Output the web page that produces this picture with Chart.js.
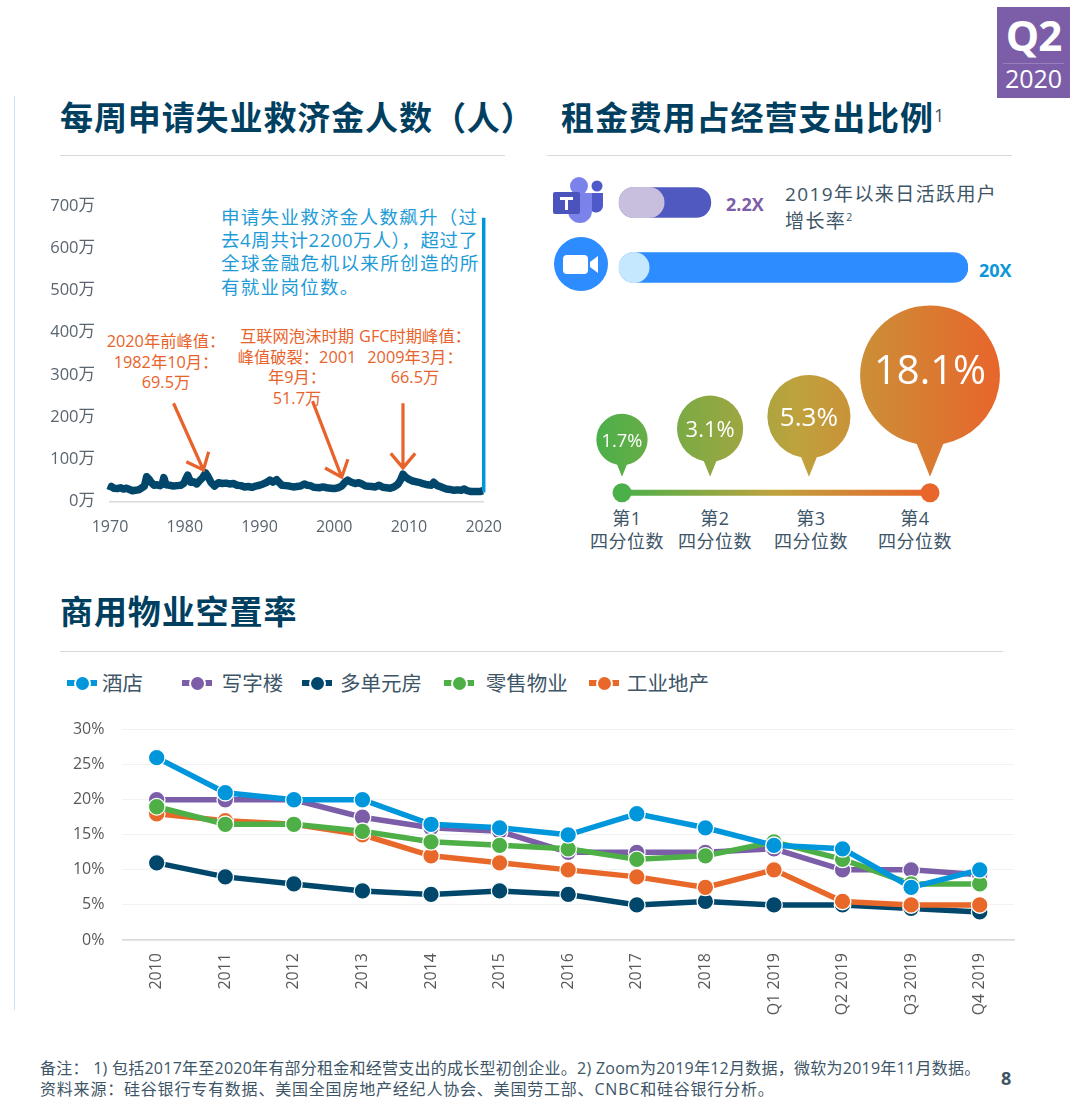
<!DOCTYPE html>
<html lang="zh">
<head>
<meta charset="utf-8">
<title>Q2 2020</title>
<script src="https://cdn.jsdelivr.net/npm/chart.js@4/dist/chart.umd.min.js"></script>
<style>
html, body { margin: 0; padding: 0; background: #fff; }
body { position: relative; width: 1080px; height: 1107px; overflow: hidden; font-family: "Open Sans", "Noto Sans CJK SC", sans-serif; color: #3d5566; }
canvas { position: absolute; }
.t { position: absolute; white-space: nowrap; }
.title { font-size: 33px; font-weight: 700; color: #003f5f; letter-spacing: .9px; line-height: 40px; }
.rule { position: absolute; height: 1px; background: #d9d9d9; }
.orange { color: #e8632b; font-size: 16.3px; line-height: 20.5px; text-align: center; transform: translateX(-50%); }
.quart { font-size: 18px; line-height: 23px; text-align: center; transform: translateX(-50%); letter-spacing: .5px; }
sup { font-size: .55em; line-height: 0; }
</style>
</head>
<body>
<div style="position:absolute;left:14px;top:96px;width:1px;height:914px;background:#cfe3ee"></div>

<div style="position:absolute;left:997px;top:7px;width:73px;height:91px;background:#7b5ea7;color:#fff;text-align:center">
  <div style="font-size:42px;font-weight:700;line-height:50px;margin-top:3px;letter-spacing:-1px">Q2</div>
  <div style="height:1px;background:#9580bb;margin:3px 6px 0"></div>
  <div style="font-size:25px;line-height:28px">2020</div>
</div>

<div class="t title" style="left:60px;top:98px">每周申请失业救济金人数（人）</div>
<div class="t title" style="left:561px;top:98px">租金费用占经营支出比例<sup style="font-size:18px;font-weight:400;letter-spacing:0;vertical-align:8px;color:#3d5566">1</sup></div>
<div class="rule" style="left:60px;top:155px;width:445px"></div>
<div class="rule" style="left:547px;top:155px;width:465px"></div>

<div class="t" style="left:221px;top:205px;font-size:18.5px;line-height:23.2px;color:#1e9bd7">
  <div style="letter-spacing:1.3px">申请失业救济金人数飙升（过</div>
  <div style="letter-spacing:.6px">去4周共计2200万人），超过了</div>
  <div style="letter-spacing:1.4px">全球金融危机以来所创造的所</div>
  <div style="letter-spacing:1.3px">有就业岗位数。</div>
</div>
<div class="t orange" style="left:166px;top:331px">2020年前峰值：<br>1982年10月：<br>69.5万</div>
<div class="t orange" style="left:297px;top:326px">互联网泡沫时期<br>峰值破裂：2001<br>年9月：<br>51.7万</div>
<div class="t orange" style="left:415px;top:326px">GFC时期峰值：<br>2009年3月：<br>66.5万</div>

<svg style="position:absolute;left:550px;top:175px" width="56" height="50" viewBox="550 175 56 50">
  <circle cx="597" cy="186" r="5.5" fill="#5059c9"/>
  <path d="M590 193h13v13a7 7 0 0 1-13 3z" fill="#5059c9"/>
  <circle cx="579" cy="186" r="9" fill="#7b83eb"/>
  <path d="M566 193h26v18a12 12 0 0 1-24 0z" fill="#7b83eb"/>
  <rect x="553" y="192" width="27" height="22" rx="2" fill="#4b53bc"/>
  <path d="M560 197h13v3h-5v10h-3v-10h-5z" fill="#fff"/>
</svg>
<svg style="position:absolute;left:552px;top:235px" width="58" height="58" viewBox="552 235 58 58">
  <circle cx="581" cy="264" r="27" fill="#2d8cff"/>
  <rect x="563" y="255" width="25" height="19" rx="4" fill="#fff"/>
  <path d="M590 262l8-6v17l-8-6z" fill="#fff"/>
</svg>
<div class="t" style="left:726px;top:192px;font-size:18px;line-height:24px;font-weight:700;color:#7b5ea7">2.2X</div>
<div class="t" style="left:979px;top:258px;font-size:18px;line-height:24px;font-weight:700;color:#0d97d8">20X</div>
<div class="t" style="left:785px;top:181px;font-size:19px;line-height:27px;letter-spacing:1.4px">2019年以来日活跃用户<br>增长率<sup>2</sup></div>

<div class="t quart" style="left:627px;top:507px">第1<br>四分位数</div>
<div class="t quart" style="left:715px;top:507px">第2<br>四分位数</div>
<div class="t quart" style="left:811px;top:507px">第3<br>四分位数</div>
<div class="t quart" style="left:915px;top:507px">第4<br>四分位数</div>

<div class="t title" style="left:60px;top:592px">商用物业空置率</div>
<div class="rule" style="left:60px;top:651px;width:943px"></div>
<div id="legend"></div>

<canvas id="claimsChart" width="488" height="360" style="left:30px;top:181px"></canvas>
<canvas id="growthChart" width="400" height="130" style="left:600px;top:170px"></canvas>
<canvas id="quartileChart" width="430" height="220" style="left:590px;top:300px"></canvas>
<canvas id="vacancyChart" width="990" height="318" style="left:50px;top:702px"></canvas>

<div class="t" style="left:40px;top:1058px;font-size:16px;line-height:21px">
  <div style="letter-spacing:.25px">备注： 1) 包括2017年至2020年有部分租金和经营支出的成长型初创企业。2) Zoom为2019年12月数据，微软为2019年11月数据。</div>
  <div style="letter-spacing:.8px">资料来源：硅谷银行专有数据、美国全国房地产经纪人协会、美国劳工部、CNBC和硅谷银行分析。</div>
</div>
<div class="t" style="left:1001px;top:1066px;font-size:18px;line-height:24px;font-weight:700">8</div>

<script>
const FONT = '"Open Sans", "Noto Sans CJK SC", sans-serif';

// Weekly claims (unit: 万)
const claimYears = [1970, 1970.2, 1970.5, 1971, 1971.4, 1971.8, 1972.2, 1972.6, 1973, 1973.4, 1973.8, 1974.2, 1974.6, 1974.9, 1975.2, 1975.5, 1975.9, 1976.3, 1976.7, 1977, 1977.2, 1977.5, 1978, 1978.5, 1979, 1979.5, 1979.9, 1980.1, 1980.4, 1980.8, 1981.2, 1981.6, 1982, 1982.4, 1982.8, 1983.1, 1983.5, 1984, 1984.5, 1985, 1985.5, 1986, 1986.5, 1987, 1987.5, 1988, 1988.5, 1989, 1989.5, 1990, 1990.5, 1991, 1991.4, 1991.8, 1992.3, 1992.6, 1993, 1993.5, 1994, 1994.5, 1995, 1995.5, 1996, 1996.4, 1996.8, 1997.3, 1998, 1998.5, 1999, 1999.5, 2000, 2000.5, 2001, 2001.5, 2001.8, 2002.3, 2002.8, 2003.3, 2003.7, 2004.2, 2005, 2005.5, 2006, 2006.5, 2007, 2007.5, 2008, 2008.5, 2008.9, 2009.2, 2009.5, 2010, 2010.5, 2011, 2011.5, 2012, 2012.5, 2013, 2013.3, 2013.8, 2014.3, 2015, 2015.5, 2016, 2016.5, 2017, 2017.4, 2017.8, 2018.3, 2019, 2019.5, 2019.9];
const claimValues = [27, 36, 32, 31, 33, 30, 32, 29, 26, 27, 28, 32, 37, 59, 54, 46, 39, 40, 38, 42, 57, 40, 39, 37, 38, 39, 44, 52, 63, 46, 47, 42, 50, 57, 68, 60, 46, 37, 45, 43, 44, 42, 43, 39, 38, 35, 36, 34, 37, 39, 42, 46, 51, 46, 52, 46, 39, 38, 37, 35, 36, 37, 42, 39, 38, 34, 33, 35, 33, 32, 31, 33, 37, 47, 51, 46, 43, 45, 42, 37, 36, 35, 39, 34, 33, 32, 35, 41, 52, 65, 59, 53, 49, 47, 45, 42, 40, 39, 46, 38, 35, 30, 29, 27, 28, 27, 30, 26, 24, 24, 24, 26];
const spikeYears = [2019.95, 2020, 2020, 2020];
const spikeValues = [26, 32, 330, 672];
// Arrows: from (year, 万) to (year, 万)
const claimArrows = [
  [1978.5, 233, 1982.5, 75],
  [1997.1, 238, 2001, 58],
  [2009.2, 233, 2009.2, 80]
];

// User growth multiples
const growthApps = ['Microsoft Teams', 'Zoom'];
const growthMultiple = [2.2, 20];
const growthColors = ['#5059c0', '#2d8cff'];
const growthLightColors = ['#c8bedd', '#c5e8ff'];
const growthLightWidths = [46, 31];

// Rent share by quartile
const quartileNames = ['第1四分位数', '第2四分位数', '第3四分位数', '第4四分位数'];
const quartileShare = [1.7, 3.1, 5.3, 18.1];
const quartileTrack = [0, 0.286, 0.607, 1];

// Vacancy rates
const vacancyYears = ['2010', '2011', '2012', '2013', '2014', '2015', '2016', '2017', '2018', 'Q1 2019', 'Q2 2019', 'Q3 2019', 'Q4 2019'];
const hotel = [26, 21, 20, 20, 16.5, 16, 15, 18, 16, 13.5, 13, 7.5, 10];
const office = [20, 20, 20, 17.5, 16, 15.5, 12.5, 12.5, 12.5, 13, 10, 10, 9.3];
const multifamily = [11, 9, 8, 7, 6.5, 7, 6.5, 5, 5.5, 5, 5, 4.5, 4];
const retail = [19, 16.5, 16.5, 15.5, 14, 13.5, 13, 11.5, 12, 14, 11.5, 8, 8];
const industrial = [18, 17, 16.5, 15, 12, 11, 10, 9, 7.5, 10, 5.5, 5, 5];

const vacancySeries = [
  { name: '酒店', data: hotel, color: '#0096dc', order: 0, symbolX: 66.7, textX: 102 },
  { name: '写字楼', data: office, color: '#7b5ea7', order: 3, symbolX: 182, textX: 221.7 },
  { name: '多单元房', data: multifamily, color: '#00476b', order: 4, symbolX: 301.7, textX: 340 },
  { name: '零售物业', data: retail, color: '#4eaf47', order: 1, symbolX: 444, textX: 485.7 },
  { name: '工业地产', data: industrial, color: '#e8682a', order: 2, symbolX: 589, textX: 627 }
];

// HTML legend, the gaps between entries are uneven in the reference
const legendBox = document.getElementById('legend');
vacancySeries.forEach(s => {
  legendBox.insertAdjacentHTML('beforeend', `
    <div style="position:absolute;left:${s.symbolX}px;top:680px;width:30px;height:6px;background:${s.color}"></div>
    <div style="position:absolute;left:${s.symbolX + 7}px;top:674.5px;width:13px;height:13px;border-radius:50%;background:${s.color};border:2px solid #fff"></div>
    <div class="t" style="left:${s.textX}px;top:669px;font-size:20.5px;line-height:28px">${s.name}</div>`);
});

function fixedAxisSize(size) {
  return function(scale) {
    if (scale.isHorizontal()) scale.height = size; else scale.width = size;
  };
}

// Claims chart
const arrowPlugin = {
  id: 'arrowPlugin',
  afterDatasetsDraw(chart) {
    const { ctx, scales } = chart;
    ctx.save();
    ctx.strokeStyle = '#e8632b';
    ctx.lineWidth = 3.2;
    claimArrows.forEach(a => {
      const x1 = scales.x.getPixelForValue(a[0]), y1 = scales.y.getPixelForValue(a[1]);
      const x2 = scales.x.getPixelForValue(a[2]), y2 = scales.y.getPixelForValue(a[3]);
      const angle = Math.atan2(y2 - y1, x2 - x1);
      ctx.beginPath();
      ctx.moveTo(x1, y1);
      ctx.lineTo(x2, y2);
      ctx.moveTo(x2 - 19 * Math.cos(angle - 0.7), y2 - 19 * Math.sin(angle - 0.7));
      ctx.lineTo(x2, y2);
      ctx.lineTo(x2 - 19 * Math.cos(angle + 0.7), y2 - 19 * Math.sin(angle + 0.7));
      ctx.stroke();
    });
    ctx.restore();
  }
};

new Chart(document.getElementById('claimsChart'), {
  type: 'line',
  data: {
    datasets: [
      {
        data: spikeYears.map((x, i) => ({ x, y: spikeValues[i] })),
        borderColor: '#0096dc', borderWidth: 3.5, pointRadius: 0, clip: false, order: 0
      },
      {
        data: claimYears.map((x, i) => ({ x, y: claimValues[i] })),
        borderColor: '#00476b', borderWidth: 7.5, borderJoinStyle: 'round', pointRadius: 0, clip: false, order: 1
      }
    ]
  },
  options: {
    responsive: false,
    animation: false,
    layout: { padding: { top: 24, right: 17 } },
    plugins: { legend: { display: false }, tooltip: { enabled: false } },
    scales: {
      x: {
        type: 'linear', min: 1970, max: 2020,
        afterFit: fixedAxisSize(39.3),
        grid: { display: false, drawTicks: false },
        border: { color: '#d9d9d9', width: 1.5 },
        ticks: { stepSize: 10, padding: 16, maxRotation: 0, color: '#5a6570', font: { family: FONT, size: 16 }, callback: v => String(v) }
      },
      y: {
        min: 0, max: 700,
        afterFit: fixedAxisSize(80),
        grid: { display: false, drawTicks: false },
        border: { display: false },
        ticks: { stepSize: 100, padding: 15, color: '#5a6570', font: { family: FONT, size: 16.5 }, callback: v => v + '万' }
      }
    }
  },
  plugins: [arrowPlugin]
});

// Growth bars
const lightPillPlugin = {
  id: 'lightPillPlugin',
  afterDatasetsDraw(chart) {
    const { ctx } = chart;
    chart.getDatasetMeta(0).data.forEach((bar, i) => {
      ctx.save();
      ctx.fillStyle = growthLightColors[i];
      ctx.beginPath();
      ctx.roundRect(bar.base - 0.5, bar.y - 15.5, growthLightWidths[i], 31, 15.5);
      ctx.fill();
      ctx.restore();
    });
  }
};

new Chart(document.getElementById('growthChart'), {
  type: 'bar',
  data: {
    labels: growthApps,
    datasets: [{
      data: growthMultiple,
      backgroundColor: growthColors,
      barThickness: 30,
      borderRadius: 15,
      borderSkipped: false
    }]
  },
  options: {
    indexAxis: 'y',
    responsive: false,
    animation: false,
    layout: { padding: { left: 19, right: 32 } },
    plugins: { legend: { display: false }, tooltip: { enabled: false } },
    scales: {
      x: { type: 'logarithmic', min: 1, max: 20, display: false },
      y: { display: false }
    }
  },
  plugins: [lightPillPlugin]
});

// Quartile pins
function quartileGradient(chart, x1, x2) {
  const g = chart.ctx.createLinearGradient(x1, 0, x2, 0);
  g.addColorStop(0, '#4bb04a');
  g.addColorStop(0.5, '#bfa23d');
  g.addColorStop(1, '#e8652b');
  return g;
}

const pinPlugin = {
  id: 'pinPlugin',
  afterDatasetsDraw(chart) {
    const { ctx, chartArea } = chart;
    const fill = quartileGradient(chart, chartArea.left - 25, chartArea.right + 70);
    chart.getDatasetMeta(1).data.forEach((pt, i) => {
      const share = quartileShare[i];
      const r = 20.5 * Math.pow(share, 0.4236);
      const tipY = pt.y - 16;
      const cy = tipY - 1.45 * r;
      ctx.save();
      ctx.fillStyle = fill;
      ctx.beginPath();
      ctx.arc(pt.x, cy, r, Math.PI / 2 + 0.19, Math.PI / 2 - 0.19);
      ctx.lineTo(pt.x, tipY);
      ctx.closePath();
      ctx.fill();
      ctx.fillStyle = '#fff';
      ctx.textAlign = 'center';
      ctx.textBaseline = 'middle';
      ctx.font = (r * 0.488 + 5.8) + 'px ' + FONT;
      ctx.fillText(share + '%', pt.x, cy + (i === 3 ? -3 : 2));
      ctx.restore();
    });
  }
};

new Chart(document.getElementById('quartileChart'), {
  type: 'line',
  data: {
    datasets: [
      {
        data: [{ x: 0, y: 0 }, { x: 1, y: 0 }],
        borderWidth: 6,
        borderColor: c => c.chart.chartArea ? quartileGradient(c.chart, c.chart.chartArea.left, c.chart.chartArea.right) : '#bfa23d',
        pointRadius: 9.5,
        pointBorderWidth: 0,
        pointBackgroundColor: ['#4bb04a', '#e8652b'],
        clip: false
      },
      {
        data: quartileTrack.map(x => ({ x, y: 0 })),
        showLine: false,
        pointRadius: 0,
        clip: false
      }
    ]
  },
  options: {
    responsive: false,
    animation: false,
    layout: { padding: { left: 32, right: 90, bottom: 27.3 } },
    plugins: { legend: { display: false }, tooltip: { enabled: false } },
    scales: {
      x: { type: 'linear', min: 0, max: 1, display: false },
      y: { min: 0, max: 1, display: false }
    }
  },
  plugins: [pinPlugin]
});

// Vacancy lines
new Chart(document.getElementById('vacancyChart'), {
  type: 'line',
  data: {
    labels: vacancyYears,
    datasets: vacancySeries.map(s => ({
      label: s.name,
      data: s.data,
      order: s.order,
      borderColor: s.color,
      backgroundColor: s.color,
      borderWidth: 5.5,
      tension: 0,
      pointRadius: 8.3,
      pointBorderWidth: 1.3,
      pointBorderColor: '#fff',
      pointBackgroundColor: s.color,
      clip: false
    }))
  },
  options: {
    responsive: false,
    animation: false,
    layout: { padding: { top: 0, right: 26 } },
    plugins: { legend: { display: false }, tooltip: { enabled: false } },
    scales: {
      x: {
        offset: true,
        afterFit: fixedAxisSize(80),
        grid: { display: false, drawTicks: false },
        border: { color: '#d9d9d9', width: 1.5 },
        ticks: { padding: 13, minRotation: 90, maxRotation: 90, color: '#595959', font: { family: FONT, size: 16 } }
      },
      y: {
        min: 0, max: 30,
        afterFit: fixedAxisSize(72.4),
        grid: { color: '#f2f2f2', lineWidth: 1, drawTicks: false },
        border: { display: false },
        ticks: { stepSize: 5, padding: 18, color: '#595959', font: { family: FONT, size: 16 }, callback: v => v + '%' }
      }
    }
  }
});
</script>
</body>
</html>
